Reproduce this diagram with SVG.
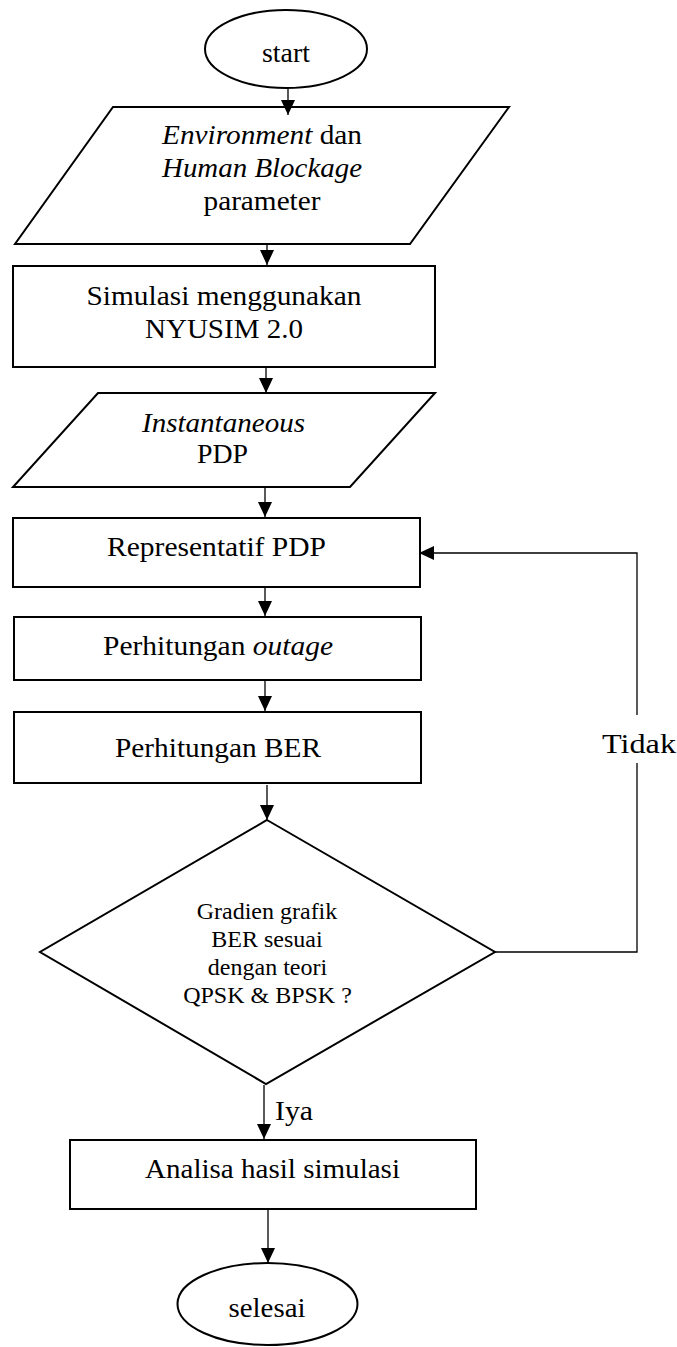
<svg xmlns="http://www.w3.org/2000/svg" width="677" height="1347" viewBox="0 0 677 1347">
<defs>
<marker id="arr" markerUnits="userSpaceOnUse" markerWidth="15" markerHeight="14" refX="15" refY="7" orient="auto">
<path d="M0,0 L15,7 L0,14 z" fill="#000"/>
</marker>
<style>
.shape{fill:#fff;stroke:#000;stroke-width:2}
.conn{fill:none;stroke:#000;stroke-width:1.3;marker-end:url(#arr)}
.line{fill:none;stroke:#000;stroke-width:1.3}
text{font-family:"Liberation Serif","Times New Roman",serif;font-size:28px;fill:#000;text-anchor:middle}
.sm{font-size:24px}
.it{font-style:italic}
</style>
</defs>
<rect width="677" height="1347" fill="#fff"/>

<g id="start">
<ellipse class="shape" cx="286" cy="49" rx="81" ry="39"/>
<text x="286" y="62" textLength="48" lengthAdjust="spacingAndGlyphs">start</text>
</g>

<g id="input-parameter">
<polygon class="shape" points="113,107 509,107 410,244 15,244"/>
<text x="262" y="144" textLength="200" lengthAdjust="spacingAndGlyphs"><tspan class="it">Environment</tspan> dan</text>
<text x="262" y="177" class="it" textLength="200" lengthAdjust="spacingAndGlyphs">Human Blockage</text>
<text x="262" y="210" textLength="117" lengthAdjust="spacingAndGlyphs">parameter</text>
</g>

<g id="simulasi">
<rect class="shape" x="13" y="266" width="422" height="101"/>
<text x="224" y="305" textLength="275" lengthAdjust="spacingAndGlyphs">Simulasi menggunakan</text>
<text x="224" y="338" textLength="158" lengthAdjust="spacingAndGlyphs">NYUSIM 2.0</text>
</g>

<g id="instantaneous-pdp">
<polygon class="shape" points="98,393 435,393 350,487 13,487"/>
<text x="223.5" y="432" class="it" textLength="163" lengthAdjust="spacingAndGlyphs">Instantaneous</text>
<text x="222.5" y="463" textLength="51" lengthAdjust="spacingAndGlyphs">PDP</text>
</g>

<g id="representatif">
<rect class="shape" x="13" y="518" width="407" height="69"/>
<text x="216.5" y="556" textLength="219" lengthAdjust="spacingAndGlyphs">Representatif PDP</text>
</g>

<g id="outage">
<rect class="shape" x="14" y="617" width="407" height="63"/>
<text x="218" y="655" textLength="230" lengthAdjust="spacingAndGlyphs">Perhitungan <tspan class="it">outage</tspan></text>
</g>

<g id="ber">
<rect class="shape" x="14" y="712" width="407" height="71"/>
<text x="218" y="757" textLength="206" lengthAdjust="spacingAndGlyphs">Perhitungan BER</text>
</g>

<g id="decision">
<polygon class="shape" points="267,820 495,952 266,1084 40,952"/>
<text class="sm" x="267" y="919">Gradien grafik</text>
<text class="sm" x="267" y="947">BER sesuai</text>
<text class="sm" x="267.5" y="975">dengan teori</text>
<text class="sm" x="267.5" y="1003">QPSK &amp; BPSK ?</text>
</g>

<g id="analisa">
<rect class="shape" x="70" y="1140" width="406" height="69"/>
<text x="272.5" y="1178" textLength="255" lengthAdjust="spacingAndGlyphs">Analisa hasil simulasi</text>
</g>

<g id="selesai">
<ellipse class="shape" cx="267.5" cy="1304" rx="90" ry="41"/>
<text x="267" y="1317" textLength="77" lengthAdjust="spacingAndGlyphs">selesai</text>
</g>

<g id="connectors">
<path class="conn" d="M288,89 V115"/>
<path class="conn" d="M267,245 V265"/>
<path class="conn" d="M266,368 V393"/>
<path class="conn" d="M265,488 V517"/>
<path class="conn" d="M265,588 V616"/>
<path class="conn" d="M265,681 V711"/>
<path class="conn" d="M267,785 V820"/>
<path class="conn" d="M264,1085 V1139"/>
<path class="conn" d="M268,1210 V1263"/>
<path class="conn" d="M495,952 H637 V763 M637,715 V553 H419"/>
<text x="639" y="753" textLength="74" lengthAdjust="spacingAndGlyphs">Tidak</text>
<text x="294" y="1120" textLength="38" lengthAdjust="spacingAndGlyphs">Iya</text>
</g>
</svg>
